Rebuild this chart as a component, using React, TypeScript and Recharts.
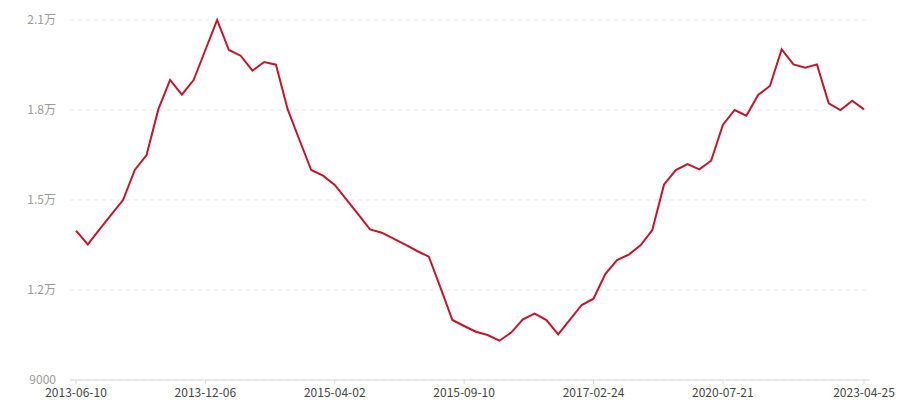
import { LineChart, Line, XAxis, YAxis, CartesianGrid } from 'recharts';

// dates on the category axis (only some of them are labelled)
const dates = [
  '2013-06-10', '2013-06-26', '2013-07-12', '2013-07-29', '2013-08-14', '2013-08-30',
  '2013-09-16', '2013-10-02', '2013-10-18', '2013-11-04', '2013-11-20', '2013-12-06',
  '2014-01-20', '2014-03-05', '2014-04-18', '2014-06-02', '2014-07-16', '2014-08-29',
  '2014-10-13', '2014-11-26', '2015-01-09', '2015-02-23', '2015-04-02', '2015-04-17',
  '2015-05-01', '2015-05-15', '2015-05-29', '2015-06-12', '2015-06-26', '2015-07-10',
  '2015-07-24', '2015-08-07', '2015-08-24', '2015-09-10', '2015-10-28', '2015-12-15',
  '2016-02-01', '2016-03-21', '2016-05-09', '2016-06-27', '2016-08-15', '2016-10-03',
  '2016-11-21', '2017-01-09', '2017-02-24', '2017-06-16', '2017-10-09', '2018-01-29',
  '2018-05-23', '2018-09-13', '2019-01-04', '2019-04-29', '2019-08-20', '2019-12-11',
  '2020-04-01', '2020-07-21', '2020-10-13', '2021-01-05', '2021-03-30', '2021-06-22',
  '2021-09-14', '2021-12-07', '2022-03-01', '2022-05-24', '2022-08-16', '2022-11-08',
  '2023-01-31', '2023-04-25',
];

const values = [
  13980, 13520, 14020, 14510, 15000, 16000, 16500, 18020, 19000, 18510, 19000, 20000,
  21000, 20000, 19810, 19310, 19600, 19510, 18020, 17000, 16000, 15810, 15500, 15010,
  14520, 14020, 13910, 13710, 13510, 13300, 13110, 12070, 11000, 10800, 10610, 10500,
  10310, 10580, 11020, 11210, 11000, 10520, 11010, 11500, 11710, 12530, 13000, 13180,
  13490, 14000, 15520, 16000, 16200, 16020, 16310, 17500, 18000, 17810, 18500, 18800,
  20020, 19520, 19410, 19520, 18220, 18000, 18310, 18020,
];

const xLabels = ['2013-06-10', '2013-12-06', '2015-04-02', '2015-09-10', '2017-02-24', '2020-07-21', '2023-04-25'];
const yTicks = [9000, 12000, 15000, 18000, 21000];

const data = dates.map((d, i) => ({ date: d, value: values[i] }));

const fmtY = (v: number) => (v >= 10000 ? `${v / 10000}万` : `${v}`);

export default function App() {
  return (
    <div style={{ position: 'absolute', left: 0, top: 0, fontFamily: '"Noto Sans CJK SC", "Noto Sans", sans-serif' }}>
      <LineChart width={900} height={400} data={data} margin={{ top: 20, right: 30, left: 0, bottom: 0 }}>
        <CartesianGrid vertical={false} stroke="#e6e6e6" strokeDasharray="4 4" />
        <XAxis
          dataKey="date"
          ticks={xLabels}
          interval={0}
          height={20}
          padding={{ left: 6, right: 6 }}
          stroke="#d9d9d9"
          tickSize={4}
          tickMargin={4}
          tick={{ fill: '#444', fontSize: 12 }}
        />
        <YAxis
          domain={[9000, 21000]}
          ticks={yTicks}
          width={70}
          axisLine={false}
          tickLine={false}
          tickMargin={8}
          tickFormatter={fmtY}
          tick={{ fill: '#9a9a9a', fontSize: 12 }}
        />
        <Line
          type="linear"
          dataKey="value"
          stroke="#c4162a"
          strokeWidth={2}
          dot={false}
          isAnimationActive={false}
        />
      </LineChart>
    </div>
  );
}
